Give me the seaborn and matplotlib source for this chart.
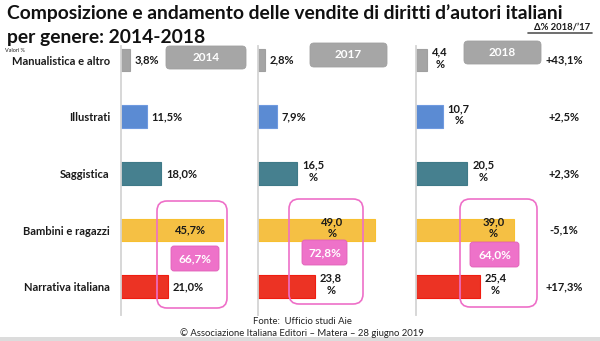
import matplotlib
matplotlib.use("Agg")
import matplotlib.pyplot as plt
from matplotlib.patches import FancyBboxPatch, Rectangle
import seaborn as sns
import pandas as pd

# ---- data -------------------------------------------------------------
generi = ["Manualistica e altro", "Illustrati", "Saggistica",
          "Bambini e ragazzi", "Narrativa italiana"]
anni = ["2014", "2017", "2018"]
quota_2014 = [3.8, 11.5, 18.0, 45.7, 21.0]
quota_2017 = [2.8, 7.9, 16.5, 49.0, 23.8]
quota_2018 = [4.4, 10.7, 20.5, 39.0, 25.4]
totale_bambini_narrativa = ["66,7%", "72,8%", "64,0%"]
delta_2018_17 = ["+43,1%", "+2,5%", "+2,3%", "-5,1%", "+17,3%"]

colori = ["#a5a5a5", "#5b8bd3", "#46808f", "#f5c044", "#ec3324"]
bordi = ["#a0a0a0", "#6f9ae0", "#3f7a88", "#f8c030", "#f01c10"]

df = pd.DataFrame({"genere": generi, "2014": quota_2014,
                   "2017": quota_2017, "2018": quota_2018})

sns.set_theme(style="white")
plt.rcParams["font.family"] = ["Lato", "DejaVu Sans"]

W, H = 600, 341
fig = plt.figure(figsize=(6.0, 3.41), dpi=100)
fig.patch.set_facecolor("white")

def fx(x):
    return x / W

def fy(y):
    return 1 - y / H

# panel geometry: left edge (px), width (px), pixels per percentage point
pannelli = [(121, 137, 2.24), (258, 158, 2.38), (416, 184, 2.50)]
# which labels break the "%" onto a second line
a_capo = [[False] * 5,
          [False, False, True, True, True],
          [True] * 5]

y_top, y_bot = 46, 315
assi = []
for k, (anno, (x0, w, scala)) in enumerate(zip(anni, pannelli)):
    ax = fig.add_axes([fx(x0), fy(y_bot), fx(w), (y_bot - y_top) / H])
    sns.barplot(data=df, y="genere", x=anno, hue="genere", palette=colori,
                orient="h", width=0.4, legend=False, ax=ax, saturation=1)
    for p, ec in zip(ax.patches, bordi):
        p.set_edgecolor(ec)
        p.set_linewidth(0.8)
    ax.set_xlim(0, w / scala)
    ax.set_ylim(4.5, -0.25)
    for s in ["top", "right", "bottom"]:
        ax.spines[s].set_visible(False)
    ax.spines["left"].set_color("#d4d4d4")
    ax.spines["left"].set_linewidth(1.3)
    ax.set_xticks([])
    ax.set_xlabel("")
    ax.set_ylabel("")
    ax.patch.set_alpha(0)
    if k == 0:
        ax.tick_params(axis="y", length=0, pad=8)
        for t in ax.get_yticklabels():
            t.set_fontsize(8)
            t.set_fontweight("bold")
            t.set_color("#1a1a1a")
    else:
        ax.set_yticks([])

    valori = df[anno].tolist()
    for i, v in enumerate(valori):
        testo = f"{v:.1f}".replace(".", ",")
        testo += "\n%" if a_capo[k][i] else "%"
        if i == 3:
            # large bar: label sits inside, under the highlight frame
            x, ha = 31, "center"
        else:
            x, ha = v + 5 / scala, "left"
        dy = -0.04 if a_capo[k][i] else 0
        ax.text(x, i + dy, testo, ha=ha, va="center", ma="center",
                fontsize=8, fontweight="bold", color="#1a1a1a",
                linespacing=1.15)
    assi.append(ax)

# delta column
ax3 = assi[2]
for i, d in enumerate(delta_2018_17):
    ax3.text((564 - 416) / 2.5, i, d, ha="center", va="center",
             fontsize=8, fontweight="bold", color="#1a1a1a")

# overlay in pixel units for frames, headers and titles
ov = fig.add_axes([0, 0, 1, 1], zorder=10)
ov.set_xlim(0, W)
ov.set_ylim(H, 0)
ov.axis("off")
ov.patch.set_alpha(0)

def box(x0, y0, x1, y1, r, **kw):
    ov.add_patch(FancyBboxPatch((x0, y0), x1 - x0, y1 - y0,
                                boxstyle=f"round,pad=0,rounding_size={r}", **kw))

# year headers
for anno, (x0, y0, x1, y1) in zip(anni, [(166, 46, 246, 69),
                                          (310, 43, 387, 67),
                                          (464, 41, 541, 64)]):
    box(x0, y0, x1, y1, 4, facecolor="#a6a6a6", edgecolor="#a0a0a0", lw=0.6)
    ov.text((x0 + x1) / 2, (y0 + y1) / 2, anno, ha="center", va="center",
            color="white", fontsize=8.5, fontweight="bold")

# highlight frames around Bambini + Narrativa
for (x0, y0, x1, y1) in [(157, 201, 227, 308), (289, 199, 363, 304),
                         (460, 199, 537, 307)]:
    box(x0, y0, x1, y1, 10, facecolor="none", edgecolor="#ee6fc8", lw=1.2)

for tot, (x0, y0, x1, y1) in zip(totale_bambini_narrativa,
                                 [(171, 246, 219, 271), (302, 240, 347, 265),
                                  (470, 242, 519, 267)]):
    box(x0, y0, x1, y1, 3, facecolor="#ee72c9", edgecolor="#e060b8", lw=0.6)
    ov.text((x0 + x1) / 2, (y0 + y1) / 2, tot, ha="center", va="center",
            color="white", fontsize=8.5, fontweight="bold")

# titles and notes
ov.text(7, 19, "Composizione e andamento delle vendite di diritti d\u2019autori italiani",
        ha="left", va="baseline", fontsize=13.9, fontweight="bold", color="#111111")
ov.text(7, 43, "per genere: 2014-2018", ha="left", va="baseline",
        fontsize=13.9, fontweight="bold", color="#111111")
ov.text(590, 30, "\u0394% 2018/\u201917", ha="right", va="baseline",
        fontsize=6.8, fontweight="bold", color="#1a1a1a")
ov.plot([528, 592], [33, 33], color="#555555", lw=1.2)
ov.text(5, 52, "Valori %", ha="left", va="baseline", fontsize=4, color="#222222")

ov.text(302, 321, "Fonte:  Ufficio studi Aie", ha="center", va="center",
        fontsize=6.8, color="#222222")
ov.text(302, 333, "\u00a9 Associazione Italiana Editori \u2013 Matera \u2013 28 giugno 2019",
        ha="center", va="center", fontsize=6.8, color="#222222")
ov.add_patch(Rectangle((0, 337), W, 4, facecolor="#dcdcdc", edgecolor="none"))

fig.savefig("out.png", dpi=100)
